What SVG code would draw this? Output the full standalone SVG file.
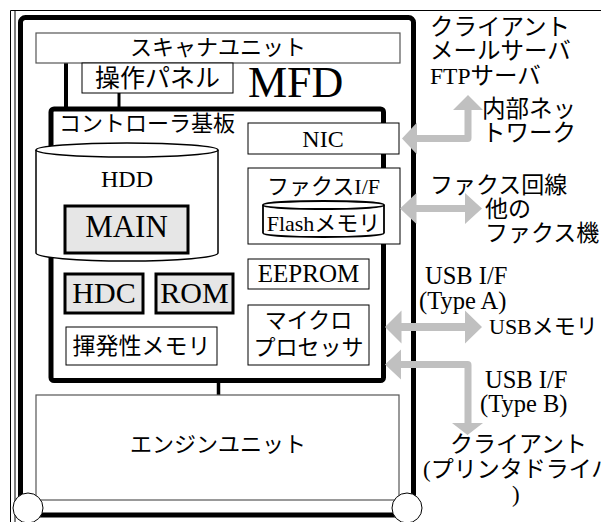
<svg xmlns="http://www.w3.org/2000/svg" width="601" height="522" viewBox="0 0 601 522">
<style>
.t{font-family:"Liberation Serif","Noto Sans CJK JP",serif;fill:#000}
.c{text-anchor:middle}
.box{fill:#fff;stroke:#000;stroke-width:1}
.gbox{fill:#fff;stroke:#555;stroke-width:1.2}
.hl{fill:#e6e6e6;stroke:#000;stroke-width:3}
.thick{fill:none;stroke:#000;stroke-width:5}
.arrow{fill:#c0c0c0;stroke:none}
</style>
<rect width="601" height="522" fill="#fff"/>
<g id="frame">
<line x1="10.5" y1="10.5" x2="601" y2="10.5" stroke="#000" stroke-width="1"/>
<line x1="10.5" y1="10.5" x2="10.5" y2="522" stroke="#000" stroke-width="1"/>
<line x1="15" y1="10.5" x2="15" y2="522" stroke="#000" stroke-width="1"/>
</g>
<g id="mfd">
<rect x="20.5" y="17.5" width="393" height="497.5" rx="5" class="thick"/>
<text class="t" x="248" y="97" font-size="44">MFD</text>
</g>
<g id="connectors">
<line x1="66" y1="63" x2="66" y2="108" stroke="#000" stroke-width="4"/>
<line x1="119" y1="93" x2="119" y2="108" stroke="#000" stroke-width="3"/>
<line x1="218.5" y1="382" x2="218.5" y2="395" stroke="#000" stroke-width="3.5"/>
</g>
<g id="scanner">
<rect x="36" y="33" width="364" height="30" class="gbox"/>
<text class="t c" x="218" y="55" font-size="22">スキャナユニット</text>
</g>
<g id="panel">
<rect x="82" y="63" width="151" height="30" class="box"/>
<text class="t c" x="157.5" y="87" font-size="25">操作パネル</text>
</g>
<g id="controller">
<rect x="51" y="109" width="332.5" height="271.5" rx="3" class="thick" stroke-width="4.5"/>
<text class="t" x="59" y="131" font-size="22">コントローラ基板</text>
</g>
<g id="hdd">
<path d="M36,150 L36,253 A91,8 0 0 0 218,253 L218,150" fill="#fff" stroke="#000" stroke-width="1.5"/>
<ellipse cx="127" cy="150" rx="91" ry="7" fill="#fff" stroke="#000" stroke-width="1.5"/>
<text class="t c" x="127" y="187" font-size="24">HDD</text>
</g>
<g id="main">
<rect x="65" y="206" width="123" height="47" class="hl"/>
<text class="t c" x="126.5" y="237" font-size="31">MAIN</text>
</g>
<g id="hdc">
<rect x="65" y="274" width="78" height="39" class="hl"/>
<text class="t c" x="104" y="303" font-size="30">HDC</text>
</g>
<g id="rom">
<rect x="156" y="274" width="77" height="39" class="hl"/>
<text class="t c" x="194.5" y="303" font-size="30">ROM</text>
</g>
<g id="volatile">
<rect x="66" y="327" width="151" height="38" class="box"/>
<text class="t c" x="141.5" y="354" font-size="23">揮発性メモリ</text>
</g>
<g id="nic">
<rect x="248" y="123" width="151" height="31" class="box"/>
<text class="t c" x="323" y="147" font-size="24">NIC</text>
</g>
<g id="fax">
<rect x="248" y="168" width="152" height="76" class="box"/>
<text class="t c" x="323.5" y="194" font-size="22">ファクスI/F</text>
</g>
<g id="flash">
<path d="M263,205 L263,233 A60.5,4 0 0 0 384,233 L384,205" fill="#fff" stroke="#000" stroke-width="1.8"/>
<ellipse cx="323.5" cy="205" rx="60.5" ry="4" fill="#fff" stroke="#000" stroke-width="1.8"/>
<text class="t c" x="323.5" y="231" font-size="22">Flashメモリ</text>
</g>
<g id="eeprom">
<rect x="248" y="259" width="121" height="30" class="box"/>
<text class="t c" x="308.5" y="282" font-size="25">EEPROM</text>
</g>
<g id="cpu">
<rect x="248" y="305" width="121" height="60" class="box"/>
<text class="t c" x="308.5" y="328" font-size="22">マイクロ</text>
<text class="t c" x="308.5" y="355" font-size="22">プロセッサ</text>
</g>
<g id="engine">
<rect x="36" y="395" width="363" height="105" class="gbox"/>
<text class="t c" x="218" y="452" font-size="22">エンジンユニット</text>
</g>
<g id="feet">
<circle cx="28" cy="508" r="15" fill="#fff" stroke="#000" stroke-width="1"/>
<circle cx="407" cy="508" r="15" fill="#fff" stroke="#000" stroke-width="1"/>
</g>
<g id="arrows">
<path class="arrow" d="M402,138.5 L417,122.5 L417,135 L464.5,135 L464.5,110 L453,110 L468,95 L483,110 L471.5,110 L471.5,138 Q471.5,142 467.5,142 L417,142 L417,154.5 Z"/>
<path class="arrow" d="M400,208.5 L416.5,193 L416.5,205 L465,205 L465,193 L482,208.5 L465,224 L465,212 L416.5,212 L416.5,224 Z"/>
<path class="arrow" d="M385,327 L401.5,310.5 L401.5,323 L465,323 L465,310.5 L482,327 L465,343.5 L465,331 L401.5,331 L401.5,343.5 Z"/>
<path class="arrow" d="M385,364.5 L401,349.5 L401,361 L467.5,361 Q471.5,361 471.5,365 L471.5,423 L483,423 L467.5,435 L452,423 L464.5,423 L464.5,368 L401,368 L401,379.5 Z"/>
</g>
<g id="labels">
<text class="t" x="430" y="34.5" font-size="23.5">クライアント</text>
<text class="t" x="430" y="59" font-size="23.5">メールサーバ</text>
<text class="t" x="430" y="83.5" font-size="23.5">FTPサーバ</text>
<text class="t" x="482" y="117" font-size="23.5">内部ネッ</text>
<text class="t" x="482" y="141" font-size="23.5">トワーク</text>
<text class="t" x="430" y="193" font-size="23">ファクス回線</text>
<text class="t" x="485" y="217" font-size="23">他の</text>
<text class="t" x="485" y="241" font-size="23">ファクス機</text>
<text class="t" x="425" y="284" font-size="24.5">USB I/F</text>
<text class="t" x="419" y="309" font-size="24.5">(Type A)</text>
<text class="t" x="489" y="334" font-size="22">USBメモリ</text>
<text class="t" x="485" y="388" font-size="24.5">USB I/F</text>
<text class="t" x="480" y="412" font-size="24.5">(Type B)</text>
<text class="t" x="450" y="452" font-size="23">クライアント</text>
<text class="t" x="423" y="477" font-size="23">(プリンタドライバ</text>
<text class="t" x="512" y="502" font-size="23">)</text>
</g>
</svg>
